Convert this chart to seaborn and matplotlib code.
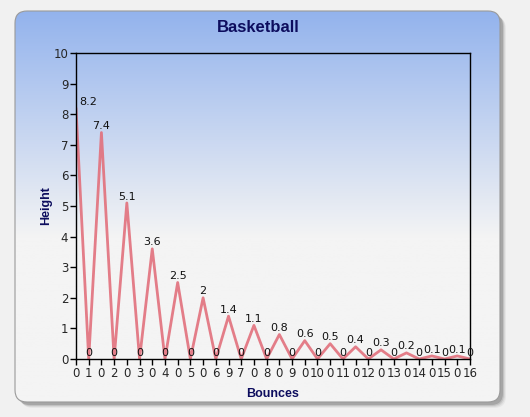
import numpy as np
import pandas as pd
import matplotlib
matplotlib.use("Agg")
import matplotlib.pyplot as plt
import seaborn as sns
from matplotlib.patches import FancyBboxPatch
from matplotlib.colors import to_rgb

# data
tick_labels = ["0", "1", "0", "2", "0", "3", "0", "4", "0", "5", "0", "6",
               "9", "7", "0", "8", "0", "9", "0", "10", "0", "11", "0", "12",
               "0", "13", "0", "14", "0", "15", "0", "16"]
heights = [8.2, 0, 7.4, 0, 5.1, 0, 3.6, 0, 2.5, 0, 2, 0, 1.4, 0, 1.1, 0,
           0.8, 0, 0.6, 0, 0.5, 0, 0.4, 0, 0.3, 0, 0.2, 0, 0.1, 0, 0.1, 0]

df = pd.DataFrame({"pos": range(len(heights)), "height": heights})

sns.set_style("ticks")
plt.rcParams['font.family'] = ['DejaVu Sans']

W, H = 530, 417
fig = plt.figure(figsize=(W / 100, H / 100), dpi=100, facecolor="#f1f1f1")

# background panel with gradient and shadow
bg = fig.add_axes([0, 0, 1, 1], zorder=-5)
bg.set_xlim(0, W)
bg.set_ylim(H, 0)
bg.axis("off")
for i, a in enumerate([0.06, 0.09, 0.14, 0.22]):
    off = 6 - i
    sh = FancyBboxPatch((15 + off, 11 + off), 485, 391,
                        boxstyle="round,pad=0,rounding_size=12",
                        fc="#444444", ec="none", alpha=a)
    bg.add_patch(sh)
panel = FancyBboxPatch((15, 11), 485, 391, boxstyle="round,pad=0,rounding_size=12",
                       fc="none", ec="#9a9a9a", lw=0.8, zorder=3)
bg.add_patch(panel)
top = np.array(to_rgb("#93b3ed"))
bot = np.array(to_rgb("#f4f4f4"))
ys = np.linspace(0, 1, 400)
t = np.clip(ys / 0.58, 0, 1)[:, None]
grad = top * (1 - t) + bot * t
img = bg.imshow(grad[:, None, :], extent=[15, 500, 402, 11], aspect="auto", zorder=1)
img.set_clip_path(panel)

ax = fig.add_axes([76 / W, 1 - 359 / H, (470 - 76) / W, (359 - 53) / H])
ax.set_facecolor("none")
sns.lineplot(data=df, x="pos", y="height", ax=ax, color="#e2707c", lw=2, alpha=0.9)

for x, y in zip(df["pos"], df["height"]):
    lab = f"{y:g}"
    ha = "center"
    dx = 0
    if x == 0:
        ha = "left"
        dx = 2
    ax.annotate(lab, (x, y), xytext=(dx, 1), textcoords="offset points",
                ha=ha, va="bottom", fontsize=8, color="#111111", clip_on=False)

ax.set_xlim(0, len(heights) - 1)
ax.set_ylim(0, 10)
ax.set_xticks(df["pos"])
ax.set_xticklabels(tick_labels)
ax.set_yticks(range(0, 11))
ax.tick_params(axis="both", labelsize=8.5, length=4, width=1, color="black", pad=1.5)
for s in ax.spines.values():
    s.set_visible(True)
    s.set_color("black")
    s.set_linewidth(1)

ax.set_xlabel("Bounces", fontsize=9, fontweight="bold", color="#0d0d5e",
              family="Liberation Sans", labelpad=6)
ax.set_ylabel("Height", fontsize=9, fontweight="bold", color="#0d0d5e",
              family="Liberation Sans", labelpad=1)
fig.text(258 / W, 1 - 27 / H, "Basketball", ha="center", va="center", fontsize=12,
         fontweight="bold", color="#0d0d5e", family="Liberation Sans")

fig.savefig("out.png", dpi=100, facecolor=fig.get_facecolor())
